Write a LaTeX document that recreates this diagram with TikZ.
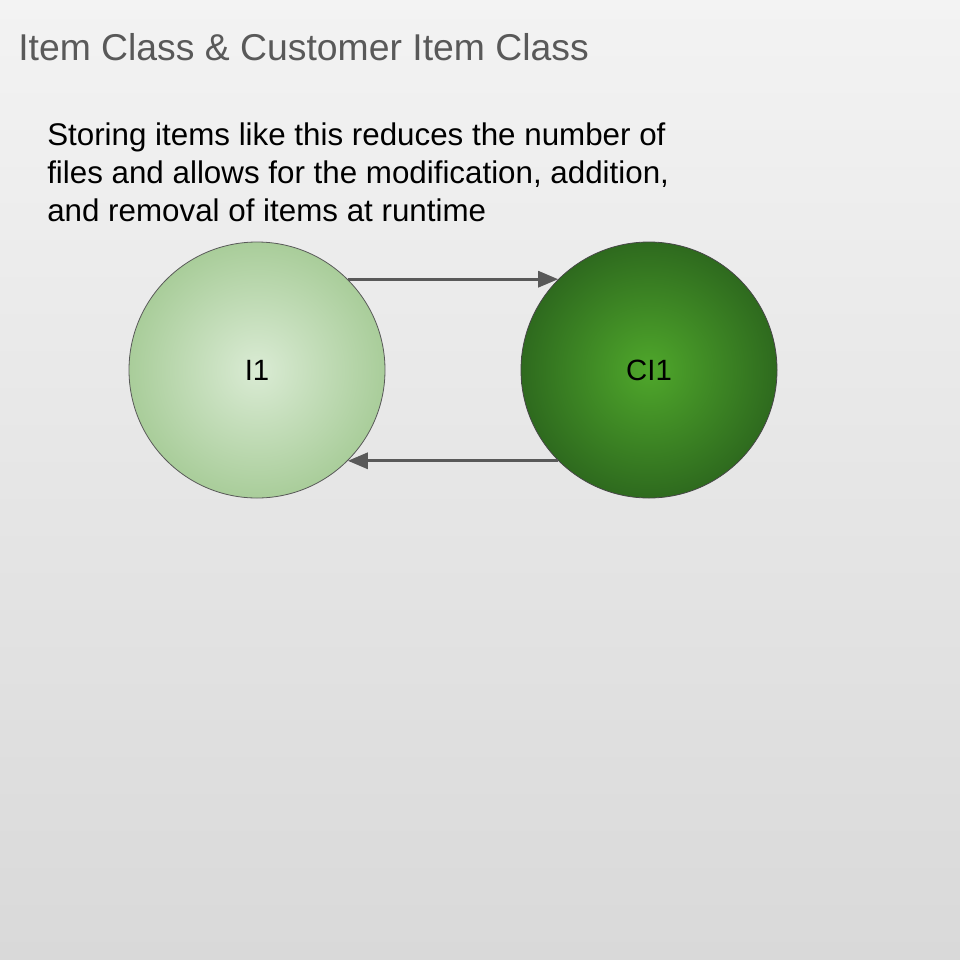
\documentclass[tikz,border=0pt]{standalone}
\usepackage{fontspec}
\setmainfont{Liberation Sans}
\usetikzlibrary{arrows.meta}
\definecolor{hintergrundoben}{HTML}{F3F3F3}
\definecolor{hintergrundunten}{HTML}{D9D9D9}
\definecolor{titelgrau}{HTML}{595959}
\definecolor{pfeilgrau}{HTML}{595959}
\definecolor{hellinnen}{HTML}{DAEBD4}
\definecolor{hellaussen}{HTML}{A9CD9A}
\definecolor{dunkelinnen}{HTML}{4FA72B}
\definecolor{dunkelaussen}{HTML}{2E6A1E}
\tikzset{
    klasse/.style={circle, draw=pfeilgrau, line width=0.6pt, minimum size=192pt, inner sep=0pt,
        font=\fontsize{22}{26}\selectfont},
    verbindung/.style={draw=pfeilgrau, line width=2.25pt,
        -{Triangle[length=15pt, width=12pt, fill=pfeilgrau]}}
}
\begin{document}
\begin{tikzpicture}[x=0.75pt, y=-0.75pt]
    % Hintergrund
    \shade[top color=hintergrundoben, bottom color=hintergrundunten] (0,0) rectangle (960,960);
    \useasboundingbox (0,0) rectangle (960,960);

    % Titel und Text
    \node[anchor=base west, inner sep=0pt, text=titelgrau, font=\fontsize{28}{34}\selectfont]
        (titel) at (18,60) {Item Class \& Customer Item Class};
    \node[anchor=base west, inner sep=0pt, align=left, font=\fontsize{23.5}{28.5}\selectfont]
        (text) at (47,221) {Storing items like this reduces the number of\\
        files and allows for the modification, addition,\\
        and removal of items at runtime};

    % Klassen
    \node[klasse, inner color=hellinnen, outer color=hellaussen] (item) at (257,370) {I1};
    \node[klasse, draw=pfeilgrau!80!black, inner color=dunkelinnen, outer color=dunkelaussen]
        (kunde) at (649,370) {CI1};

    % Pfeile
    \draw[verbindung] (item.45) -- (kunde.135);
    \draw[verbindung] (kunde.-135) -- (item.-45);
\end{tikzpicture}
\end{document}
